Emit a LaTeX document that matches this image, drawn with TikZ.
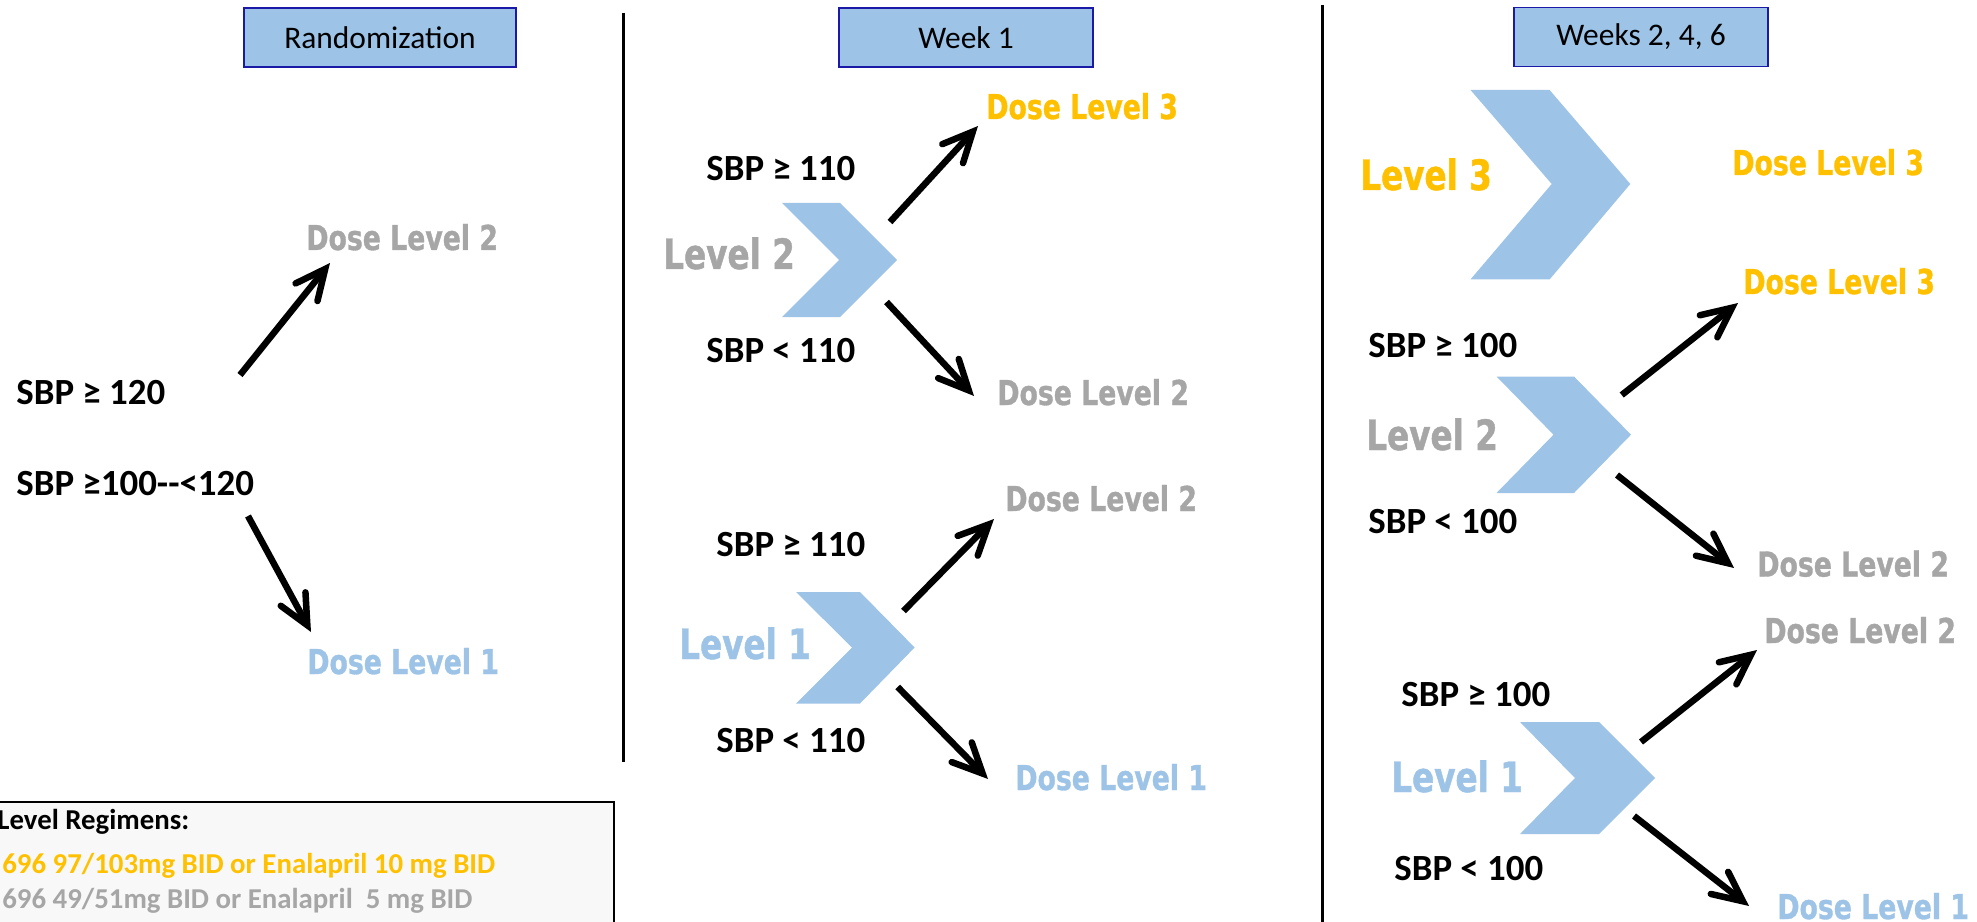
\documentclass[tikz,border=0pt]{standalone}
\usepackage{fontspec}
\setmainfont{Carlito}
\newfontfamily\levelfont[FakeStretch=0.78, BoldFeatures={FakeBold=1}]{DejaVu Sans}
\usetikzlibrary{arrows.meta}

\definecolor{lvlorange}{HTML}{FFC000}
\definecolor{lvlgray}{HTML}{A6A6A6}
\definecolor{lvlblue}{HTML}{9DC3E6}
\definecolor{hdrline}{HTML}{1A1AA6}
\definecolor{legendbg}{HTML}{F8F8F8}

\begin{document}
\begin{tikzpicture}[x=0.02cm, y=-0.02cm,
	hdr/.style={draw=hdrline, line width=1.1pt, fill=lvlblue, inner sep=0,
		minimum height=1.18cm, font=\fontsize{17.9}{18}\selectfont},
	dose/.style={anchor=base west, inner sep=0, font=\levelfont\bfseries\fontsize{19.5}{20}\selectfont},
	lvl/.style={anchor=base west, inner sep=0, font=\levelfont\bfseries\fontsize{23.8}{24}\selectfont},
	sbp/.style={anchor=base west, inner sep=0, font=\bfseries\fontsize{21}{22}\selectfont},
	reg/.style={anchor=base west, inner sep=0, font=\bfseries\fontsize{16.4}{17}\selectfont},
	chev/.style={fill=lvlblue},
	divider/.style={line width=1.7pt},
	jump/.style={line width=3.7pt, -{Straight Barb[length=17pt, width=16pt, line cap=round]}}]

	\useasboundingbox (0,0) rectangle (1977,922);

	% regimen legend, bottom left
	\draw[line width=1.4pt, fill=legendbg] (-10,802) rectangle (614,940);
	\node[reg] (regtitle) at (-3,829) {Level Regimens:};
	\node[reg, text=lvlorange] (regtop) at (2,873) {696 97/103mg BID or Enalapril 10 mg BID};
	\node[reg, text=lvlgray] (regmid) at (2,908) {696 49/51mg BID or Enalapril\ \ 5 mg BID};

	% column dividers
	\draw[divider] (623.5,13) -- (623.5,762);
	\draw[divider] (1322.5,5) -- (1322.5,930);

	% headers
	\node[hdr, minimum width=5.44cm] (rand) at (380,37.5) {Randomization};
	\node[hdr, minimum width=5.08cm] (wk1) at (966,37.5) {Week 1};
	\node[hdr, minimum width=5.09cm] (wk246) at (1641,37) {Weeks 2, 4, 6};

	% randomization
	\node[dose, text=lvlgray] (r-dl2) at (306,250) {Dose Level 2};
	\node[sbp] (r-hi) at (16,404) {SBP ≥ 120};
	\node[sbp] (r-lo) at (16,495) {SBP ≥100{-}{-}<120};
	\node[dose, text=lvlblue] (r-dl1) at (307,674) {Dose Level 1};

	\coordinate (r-up-s) at (240,375);
	\coordinate (r-up-e) at (330,263);
	\coordinate (r-dn-s) at (248,516);
	\coordinate (r-dn-e) at (311,632);
	\draw[jump] (r-up-s) -- (r-up-e);
	\draw[jump] (r-dn-s) -- (r-dn-e);

	% week 1
	\fill[chev] (782,203) -- (840,203) -- (897,260) -- (840,317) -- (782,317) -- (839,260) -- cycle;
	\fill[chev] (796,592) -- (860,592) -- (914.6,647.5) -- (860,703.5) -- (796,703.5) -- (852,647.5) -- cycle;

	\node[dose, text=lvlorange] (a-dl3) at (986,119) {Dose Level 3};
	\node[sbp] (a-hi2) at (706,181) {SBP ≥ 110};
	\node[lvl, text=lvlgray] (a-lv2) at (663,269) {Level 2};
	\node[sbp] (a-lo2) at (706,362) {SBP < 110};
	\node[dose, text=lvlgray] (a-dl2) at (997,405) {Dose Level 2};
	\node[dose, text=lvlgray] (a-dl2b) at (1005,511) {Dose Level 2};
	\node[sbp] (a-hi1) at (716,556) {SBP ≥ 110};
	\node[lvl, text=lvlblue] (a-lv1) at (679,659) {Level 1};
	\node[sbp] (a-lo1) at (716,752) {SBP < 110};
	\node[dose, text=lvlblue] (a-dl1) at (1015,790) {Dose Level 1};

	\coordinate (a-up2-s) at (890,222);
	\coordinate (a-up2-e) at (978,126);
	\coordinate (a-dn2-s) at (886.5,302);
	\coordinate (a-dn2-e) at (974,396);
	\coordinate (a-up1-s) at (903.5,611);
	\coordinate (a-up1-e) at (994,519);
	\coordinate (a-dn1-s) at (897.7,687);
	\coordinate (a-dn1-e) at (988,779);
	\draw[jump] (a-up2-s) -- (a-up2-e);
	\draw[jump] (a-dn2-s) -- (a-dn2-e);
	\draw[jump] (a-up1-s) -- (a-up1-e);
	\draw[jump] (a-dn1-s) -- (a-dn1-e);

	% weeks 2, 4, 6
	\fill[chev] (1470.5,90) -- (1549.6,90) -- (1630.3,184) -- (1549.6,279.4) -- (1470.5,279.4) -- (1551.7,184) -- cycle;
	\fill[chev] (1496.5,376.5) -- (1574,376.5) -- (1631,434.7) -- (1574,493) -- (1496.5,493) -- (1553.5,434.7) -- cycle;
	\fill[chev] (1520,722) -- (1599,722) -- (1655,778) -- (1599,834) -- (1520,834) -- (1575,778) -- cycle;

	\node[lvl, text=lvlorange] (b-lv3) at (1360,190) {Level 3};
	\node[dose, text=lvlorange] (b-dl3) at (1732,175) {Dose Level 3};
	\node[dose, text=lvlorange] (b-dl3b) at (1743,294) {Dose Level 3};
	\node[sbp] (b-hi2) at (1368,357) {SBP ≥ 100};
	\node[lvl, text=lvlgray] (b-lv2) at (1366,450) {Level 2};
	\node[sbp] (b-lo2) at (1368,533.5) {SBP < 100};
	\node[dose, text=lvlgray] (b-dl2) at (1757,576.5) {Dose Level 2};
	\node[dose, text=lvlgray] (b-dl2b) at (1764,643) {Dose Level 2};
	\node[sbp] (b-hi1) at (1401,706) {SBP ≥ 100};
	\node[lvl, text=lvlblue] (b-lv1) at (1391,792) {Level 1};
	\node[sbp] (b-lo1) at (1394,880.6) {SBP < 100};
	\node[dose, text=lvlblue] (b-dl1) at (1777,919) {Dose Level 1};

	\coordinate (b-up2-s) at (1621.7,395);
	\coordinate (b-up2-e) at (1738,303);
	\coordinate (b-dn2-s) at (1617,475);
	\coordinate (b-dn2-e) at (1734,568);
	\coordinate (b-up1-s) at (1641,742);
	\coordinate (b-up1-e) at (1757,650);
	\coordinate (b-dn1-s) at (1634,816);
	\coordinate (b-dn1-e) at (1749,906);
	\draw[jump] (b-up2-s) -- (b-up2-e);
	\draw[jump] (b-dn2-s) -- (b-dn2-e);
	\draw[jump] (b-up1-s) -- (b-up1-e);
	\draw[jump] (b-dn1-s) -- (b-dn1-e);
\end{tikzpicture}
\end{document}
